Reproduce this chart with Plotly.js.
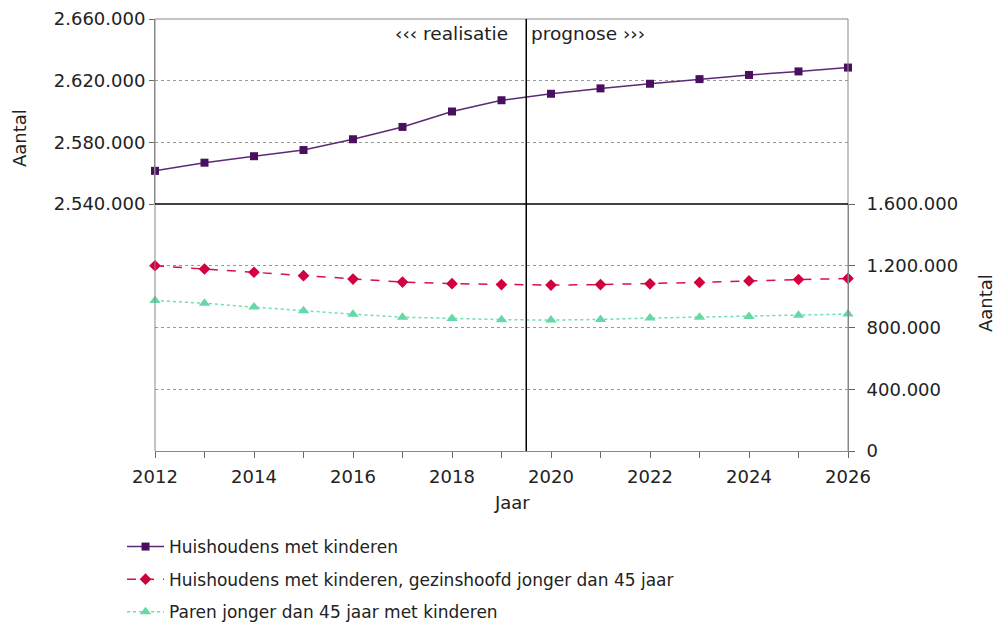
<!DOCTYPE html>
<html>
<head>
<meta charset="utf-8">
<script src="https://cdn.plot.ly/plotly-3.0.1.min.js"></script>
<style>html,body{margin:0;padding:0;background:#fff}#chart{width:1000px;height:625px}</style>
</head>
<body>
<div id="chart"></div>
<script>
const years = [2012,2013,2014,2015,2016,2017,2018,2019,2020,2021,2022,2023,2024,2025,2026];
const huishoudensMetKinderen = [2561500,2566800,2571000,2575000,2582000,2590000,2600000,2607300,2611500,2615000,2618000,2621000,2623700,2626000,2628500];
const gezinshoofdJonger45 = [1200000,1179000,1158000,1136000,1114000,1094000,1084000,1078000,1075000,1078000,1083000,1092000,1102000,1111000,1118000];
const parenJonger45 = [975000,957000,932000,908000,886000,867000,858000,851000,848000,852000,861000,867000,871000,880000,887000];
const seriesNames = ["Huishoudens met kinderen","Huishoudens met kinderen, gezinshoofd jonger dan 45 jaar","Paren jonger dan 45 jaar met kinderen"];
const xTickVals = [2012,2014,2016,2018,2020,2022,2024,2026];
const topTicks = [2540000,2580000,2620000,2660000];
const bottomTicks = [0,400000,800000,1200000,1600000];

const split = 247/432;
const tickFont = {family:"DejaVu Sans, Verdana, sans-serif", size:18, color:"#222"};
const traces = [
  {x:years, y:huishoudensMetKinderen, name:seriesNames[0], type:"scatter", mode:"lines+markers",
   xaxis:"x", yaxis:"y", legendgroup:"a", cliponaxis:false,
   line:{color:"#5c2a74", width:1.5}, marker:{symbol:"square", size:8, color:"#4a1060"}},
  {x:years, y:gezinshoofdJonger45, name:seriesNames[1], type:"scatter", mode:"lines+markers",
   xaxis:"x", yaxis:"y2", legendgroup:"b", cliponaxis:false,
   line:{color:"#d6104a", width:1.5, dash:"dash"}, marker:{symbol:"diamond", size:9, color:"#d2003f"}},
  {x:years, y:parenJonger45, name:seriesNames[2], type:"scatter", mode:"lines+markers",
   xaxis:"x", yaxis:"y2", legendgroup:"c", cliponaxis:false,
   line:{color:"#6ee0b0", width:1.5, dash:"dot"}, marker:{symbol:"triangle-up", size:10, color:"#66d8a6"}}
];
const layout = {
  width:1000, height:625,
  margin:{l:155, r:152, t:19, b:174, autoexpand:false},
  paper_bgcolor:"#fff", plot_bgcolor:"#fff",
  separators:",.",
  font:{family:"DejaVu Sans, Verdana, sans-serif", size:16, color:"#222"},
  showlegend:true,
  legend:{x:-0.0476, y:-0.1806, xanchor:"left", yanchor:"top", orientation:"v", tracegroupgap:7.5,
          itemwidth:37,
          font:{family:"DejaVu Sans, Verdana, sans-serif", size:17, color:"#222"}, bgcolor:"rgba(0,0,0,0)"},
  xaxis:{range:[2012,2026], anchor:"y2", tickvals:xTickVals, ticktext:xTickVals.map(String),
         ticks:"outside", ticklen:6, tickcolor:"#666", showgrid:false, zeroline:false,
         ticklabelstandoff:3,
         showline:true, linecolor:"#888", linewidth:1, tickfont:tickFont,
         minor:{dtick:1, tick0:2012, ticks:"outside", ticklen:6, tickcolor:"#666", showgrid:false}},
  yaxis:{domain:[split,1], range:[2540000,2660000], anchor:"x", side:"left",
         tickvals:topTicks, tickformat:",d", ticks:"outside", ticklen:5, tickcolor:"#666",
         showgrid:true, gridcolor:"#999", griddash:"dot", gridwidth:1, zeroline:false,
         showline:true, linecolor:"#888", tickfont:tickFont},
  yaxis2:{domain:[0,split], range:[0,1600000], anchor:"x", side:"right",
         tickvals:bottomTicks, tickformat:",d", ticks:"outside", ticklen:6, tickcolor:"#666",
         ticklabelstandoff:8,
         showgrid:true, gridcolor:"#999", griddash:"dot", gridwidth:1, zeroline:false,
         showline:true, linecolor:"#888", tickfont:tickFont},
  shapes:[
    {type:"line", xref:"paper", yref:"paper", x0:0, x1:1, y0:1, y1:1, line:{color:"#888", width:1}},
    {type:"line", xref:"paper", yref:"paper", x0:0, x1:0, y0:0, y1:1, line:{color:"#888", width:1}},
    {type:"line", xref:"paper", yref:"paper", x0:1, x1:1, y0:0, y1:1, line:{color:"#888", width:1}},
    {type:"line", xref:"paper", yref:"paper", x0:0, x1:1, y0:split, y1:split, line:{color:"#000", width:1.5}},
    {type:"line", xref:"x", yref:"paper", x0:2019.5, x1:2019.5, y0:0, y1:1, line:{color:"#000", width:1.5}}
  ],
  annotations:[
    {text:"‹‹‹ realisatie", xref:"x", yref:"paper", x:2019.5, y:(451-33)/432, xanchor:"right", yanchor:"middle",
     xshift:-16, showarrow:false, font:{size:18.5, color:"#222"}},
    {text:"prognose ›››", xref:"x", yref:"paper", x:2019.5, y:(451-33)/432, xanchor:"left", yanchor:"middle",
     xshift:3, showarrow:false, font:{size:18.5, color:"#222"}},
    {text:"Aantal", xref:"paper", yref:"paper", x:(20-155)/693, y:(451-138)/432, textangle:-90,
     xanchor:"center", yanchor:"middle", showarrow:false, font:{size:18, color:"#222"}},
    {text:"Aantal", xref:"paper", yref:"paper", x:(985-155)/693, y:(451-303)/432, textangle:-90,
     xanchor:"center", yanchor:"middle", showarrow:false, font:{size:18, color:"#222"}},
    {text:"Jaar", xref:"paper", yref:"paper", x:(512-155)/693, y:(451-502)/432,
     xanchor:"center", yanchor:"middle", showarrow:false, font:{size:18, color:"#222"}}
  ]
};
Plotly.newPlot("chart", traces, layout, {displayModeBar:false, staticPlot:true});
</script>
</body>
</html>
